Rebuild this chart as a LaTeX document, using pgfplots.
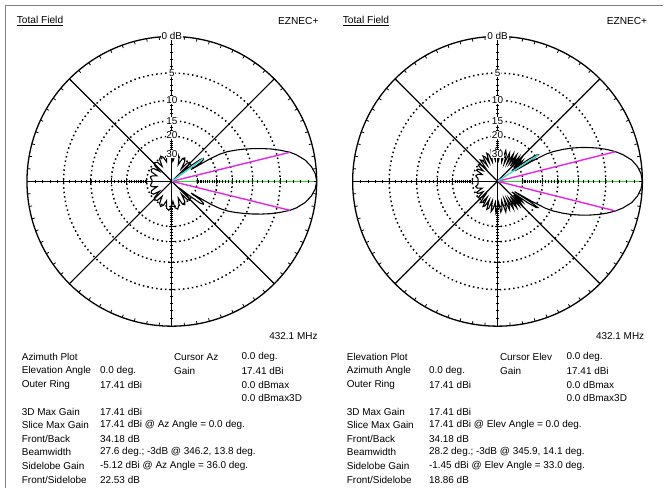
\documentclass[border=0pt]{standalone}
\usepackage{fontspec}
\setmainfont{Liberation Sans}
\usepackage{pgfplots}
\usepackage{pgfplotstable}
\pgfplotsset{compat=1.18}
\definecolor{pk}{RGB}{228,40,228}
\definecolor{cy}{RGB}{70,215,215}
\definecolor{gr}{RGB}{30,215,30}
\definecolor{frm}{RGB}{130,130,130}

% azimuth pattern (upper half, mirrored), relative dB
\pgfplotstableread{
ang db
0 0
3 -0.15
6 -0.55
9 -1.2
12 -2.2
13.8 -3.0
16 -4.3
18 -5.6
20 -7.1
22 -8.7
24 -10.4
26 -12.2
28 -14.2
29.5 -16.5
30.5 -20
31.5 -32
33 -25
34.5 -22.8
36 -22.53
37.5 -24
39 -30
40.5 -40
44 -31
47 -29.5
50 -31
53 -38
57 -31
61 -29
65 -30
69 -36
73 -30.5
78 -28
83 -29
87 -34
91 -29.5
96 -27.5
101 -28.5
105 -34
109 -30
114 -28.5
119 -30
123 -36
127 -31
132 -30
137 -31
141 -38
145 -32
150 -31
155 -32
160 -38
164 -34
168 -32.5
172 -33
176 -34
180 -34.18
}\azdata

% elevation pattern (upper half, mirrored), relative dB
\pgfplotstableread{
ang db
0 0
3 -0.14
6 -0.5
9 -1.1
12 -2.1
14.1 -3.0
16 -4.0
18 -5.2
20 -6.6
22 -8.1
24 -9.8
26 -11.8
28 -14.2
29.3 -16.5
30.3 -22
31.2 -34
32.2 -22
33 -18.86
34 -19.3
35.3 -23
36.5 -36
38 -27
39.5 -25.5
41 -33
42.5 -26.5
44 -25
45.5 -31
47 -27
48.5 -25.5
50 -34
52 -27.5
54 -25.5
56 -33
58 -28
60 -26
62 -34
64.5 -28.5
67 -26.5
69.5 -35
72 -28
75 -26
78 -34
81 -28
84 -26.5
87 -33
90 -28
93 -26
96 -33
99 -28.5
102 -26.5
105 -34
108 -28
111 -27
114 -34
117 -28.5
120 -27.5
123 -35
126 -29.5
129 -28.5
132 -36
136 -30.5
140 -30
144 -36
148 -31.5
152 -31
156 -37
161 -33
166 -32
171 -34
176 -34.5
180 -34.18
}\eldata

\newcommand\RR[1]{145*exp(0.05827*\thisrow{db})*#1(\thisrow{ang})}
\newcommand\tf{\fontsize{10}{12}\selectfont}
\newcommand\lf{\fontsize{10}{12}\selectfont}
\newcommand\hf{\fontsize{10.2}{12}\selectfont}

\begin{document}
\begin{tikzpicture}
\begin{scope}[x=1bp,y=1bp]
\fill[white] (0,0) rectangle (664,488);
\draw[frm, line width=1.3bp] (5.7,0) -- (5.7,482.5) -- (664,482.5);
\foreach \cx in {172,498}{
  \begin{scope}[shift={(\cx,306.5)}]
    \foreach \r in {108.4,81.0,60.5,45.2,25.3}
      \draw[line width=1.5bp, dash pattern=on 1.5bp off 3bp] (0,0) circle[radius=\r bp];
    \draw[line width=1.3bp] (0,0) circle[radius=145bp];
    \foreach \a in {0,45,90,135}
      \draw[line width=1.2bp] (\a:145bp) -- (\a+180:145bp);
  \end{scope}
}
\end{scope}

\begin{axis}[
  width=664bp, height=488bp, scale only axis,
  xmin=0, xmax=664, ymin=0, ymax=488,
  hide axis, clip=false,
]
% azimuth
\addplot[black, line width=1.1bp, no marks] table[x expr={172+\RR{cos}}, y expr={306.5+\RR{sin}}] {\azdata};
\addplot[black, line width=1.1bp, no marks] table[x expr={172+\RR{cos}}, y expr={306.5-\RR{sin}}] {\azdata};
\addplot[gr, line width=1.6bp, no marks] table[x expr={172+\RR{cos}}, y expr={306.5+\RR{sin}}] {
ang db
0 -99
0 0
};
\addplot[pk, line width=1.4bp, no marks] table[x expr={172+\RR{cos}}, y expr={306.5+\RR{sin}}] {
ang db
13.8 -99
13.8 -3.0
};
\addplot[pk, line width=1.4bp, no marks] table[x expr={172+\RR{cos}}, y expr={306.5+\RR{sin}}] {
ang db
-13.8 -99
-13.8 -3.0
};
\addplot[cy, line width=1.4bp, no marks] table[x expr={172+\RR{cos}}, y expr={306.5+\RR{sin}}] {
ang db
36 -99
36 -22.53
};
% elevation
\addplot[black, line width=1.1bp, no marks] table[x expr={498+\RR{cos}}, y expr={306.5+\RR{sin}}] {\eldata};
\addplot[black, line width=1.1bp, no marks] table[x expr={498+\RR{cos}}, y expr={306.5-\RR{sin}}] {\eldata};
\addplot[gr, line width=1.6bp, no marks] table[x expr={498+\RR{cos}}, y expr={306.5+\RR{sin}}] {
ang db
0 -99
0 0
};
\addplot[pk, line width=1.4bp, no marks] table[x expr={498+\RR{cos}}, y expr={306.5+\RR{sin}}] {
ang db
14.1 -99
14.1 -3.0
};
\addplot[pk, line width=1.4bp, no marks] table[x expr={498+\RR{cos}}, y expr={306.5+\RR{sin}}] {
ang db
-14.1 -99
-14.1 -3.0
};
\addplot[cy, line width=1.4bp, no marks] table[x expr={498+\RR{cos}}, y expr={306.5+\RR{sin}}] {
ang db
33 -99
33 -18.86
};
\end{axis}

\begin{scope}[x=1bp,y=1bp]
\foreach \cx in {172,498}{
  \begin{scope}[shift={(\cx,306.5)}]
    \foreach \a in {0,5,...,355}
      \draw[line width=0.8bp] (\a:142bp) -- (\a:145bp);
    \foreach \k in {1,...,30}{
      \pgfmathsetmacro\r{145*exp(-0.05827*\k)}
      \draw[line width=0.8bp] (\r bp,-1.6bp) -- (\r bp,1.6bp);
      \draw[line width=0.8bp] (-\r bp,-1.6bp) -- (-\r bp,1.6bp);
      \draw[line width=0.8bp] (-1.6bp,\r bp) -- (1.6bp,\r bp);
      \draw[line width=0.8bp] (-1.6bp,-\r bp) -- (1.6bp,-\r bp);
    }
    \foreach \r in {108.4,81.0,60.5,45.2,25.3}{
      \draw[line width=1bp] (\r bp,-3bp) -- (\r bp,3bp);
      \draw[line width=1bp] (-\r bp,-3bp) -- (-\r bp,3bp);
      \draw[line width=1bp] (-3bp,-\r bp) -- (3bp,-\r bp);
    }
    \node[fill=white, inner sep=0.8bp, font=\lf] at (0,145.5bp) {0 dB};
    \node[fill=white, inner sep=0.5bp, font=\lf] at (0,108.4bp) {5};
    \node[fill=white, inner sep=0.5bp, font=\lf] at (0,81bp) {10};
    \node[fill=white, inner sep=0.5bp, font=\lf] at (0,60.5bp) {15};
    \node[fill=white, inner sep=0.5bp, font=\lf] at (0,46.5bp) {20};
    \node[fill=white, inner sep=0.5bp, font=\lf] at (0,27.5bp) {30};
  \end{scope}
}
% headers
\node[anchor=west, font=\hf, inner sep=0] at (16.7,467.3) {\underline{Total Field}};
\node[anchor=east, font=\hf, inner sep=0] at (319,467.3) {EZNEC+};
\node[anchor=west, font=\hf, inner sep=0] at (343,467.3) {\underline{Total Field}};
\node[anchor=east, font=\hf, inner sep=0] at (648,467.3) {EZNEC+};
\node[anchor=east, font=\tf, inner sep=0] at (318,152) {432.1 MHz};
\node[anchor=east, font=\tf, inner sep=0] at (645,152) {432.1 MHz};
% left text block
\begin{scope}[every node/.style={anchor=west, font=\tf, inner sep=0}]
\node at (21.7,130.7) {Azimuth Plot};
\node at (174,130.7) {Cursor Az};
\node at (241.7,130.7) {0.0 deg.};
\node at (21.7,117) {Elevation Angle};
\node at (100,117) {0.0 deg.};
\node at (174,117) {Gain};
\node at (241.7,117) {17.41 dBi};
\node at (21.7,103) {Outer Ring};
\node at (100,103) {17.41 dBi};
\node at (241.7,103) {0.0 dBmax};
\node at (241.7,89.7) {0.0 dBmax3D};
\node at (21.7,75.7) {3D Max Gain};
\node at (100,75.7) {17.41 dBi};
\node at (21.7,62.3) {Slice Max Gain};
\node at (100,62.3) {17.41 dBi @ Az Angle = 0.0 deg.};
\node at (21.7,49) {Front/Back};
\node at (100,49) {34.18 dB};
\node at (21.7,35.3) {Beamwidth};
\node at (100,35.3) {27.6 deg.; -3dB @ 346.2, 13.8 deg.};
\node at (21.7,21.3) {Sidelobe Gain};
\node at (100,21.3) {-5.12 dBi @ Az Angle = 36.0 deg.};
\node at (21.7,8) {Front/Sidelobe};
\node at (100,8) {22.53 dB};
% right text block
\node at (347,130.7) {Elevation Plot};
\node at (500.3,130.7) {Cursor Elev};
\node at (567,130.7) {0.0 deg.};
\node at (347,117) {Azimuth Angle};
\node at (429.3,117) {0.0 deg.};
\node at (500.3,117) {Gain};
\node at (567,117) {17.41 dBi};
\node at (347,103) {Outer Ring};
\node at (429.3,103) {17.41 dBi};
\node at (567,103) {0.0 dBmax};
\node at (567,89.7) {0.0 dBmax3D};
\node at (347,75.7) {3D Max Gain};
\node at (429.3,75.7) {17.41 dBi};
\node at (347,62.3) {Slice Max Gain};
\node at (429.3,62.3) {17.41 dBi @ Elev Angle = 0.0 deg.};
\node at (347,49) {Front/Back};
\node at (429.3,49) {34.18 dB};
\node at (347,35.3) {Beamwidth};
\node at (429.3,35.3) {28.2 deg.; -3dB @ 345.9, 14.1 deg.};
\node at (347,21.3) {Sidelobe Gain};
\node at (429.3,21.3) {-1.45 dBi @ Elev Angle = 33.0 deg.};
\node at (347,8) {Front/Sidelobe};
\node at (429.3,8) {18.86 dB};
\end{scope}
\end{scope}
\end{tikzpicture}
\end{document}
